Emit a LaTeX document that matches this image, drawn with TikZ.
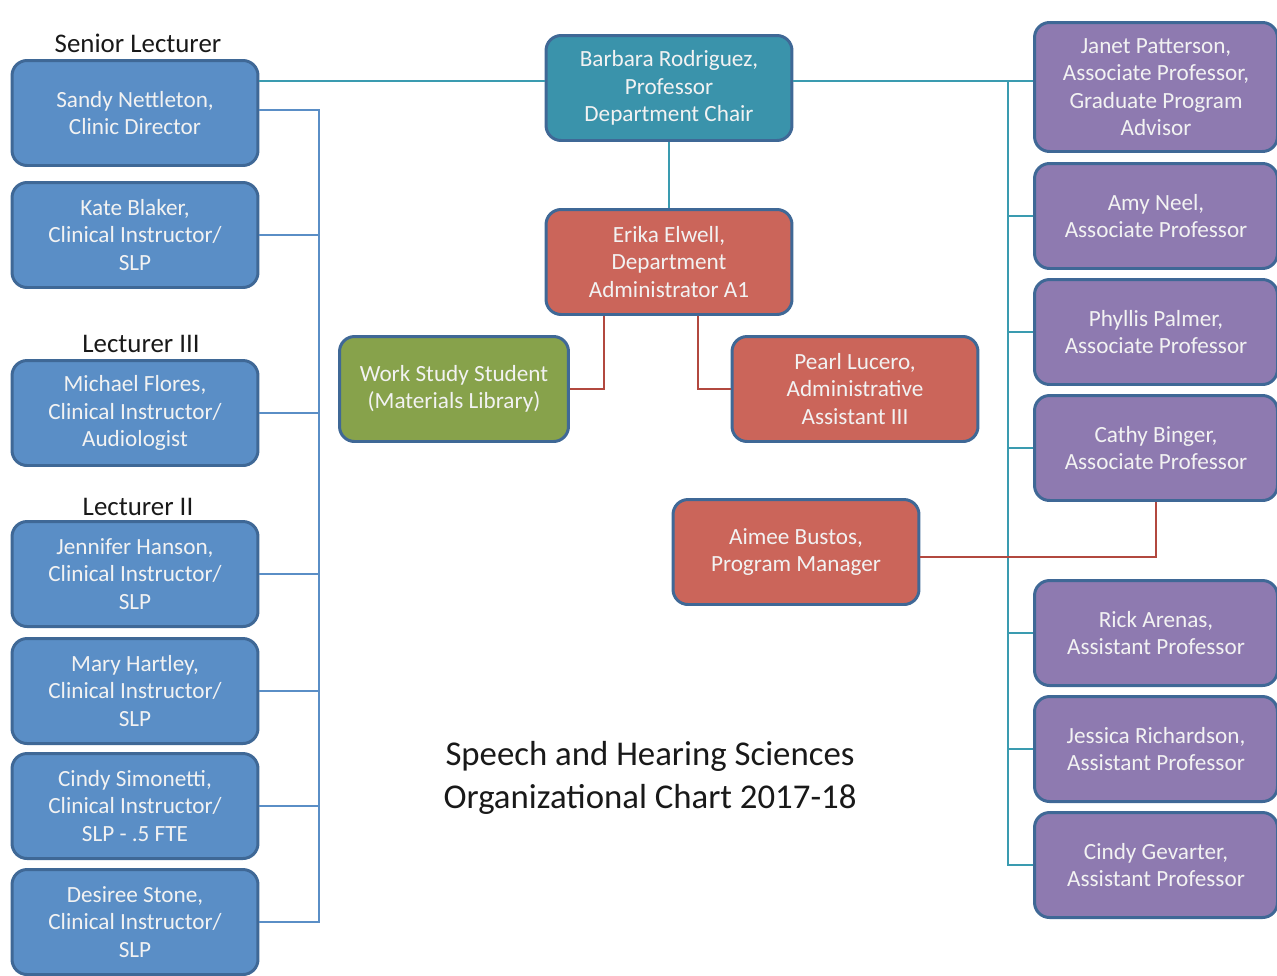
\documentclass[tikz,border=0pt]{standalone}
\usepackage{fontspec}
\setmainfont{Carlito}
\usetikzlibrary{positioning}

\definecolor{lecblue}{HTML}{5A8EC6}
\definecolor{chairteal}{HTML}{3A93AB}
\definecolor{adminred}{HTML}{CB655A}
\definecolor{workgreen}{HTML}{87A24B}
\definecolor{facpurple}{HTML}{8E7AB0}
\definecolor{boxrim}{HTML}{3F6896}
\definecolor{busblue}{HTML}{5A8EC6}
\definecolor{busteal}{HTML}{3A9BB0}
\definecolor{busred}{HTML}{B2483F}

\tikzset{
  person/.style={draw=boxrim, line width=1.7pt, rounded corners=0.3cm,
    text=white!95!black, align=center, minimum height=2.1cm,
    font=\fontsize{13.2}{15.6}\selectfont},
  lecturer/.style={person, fill=lecblue, minimum width=4.92cm},
  chair/.style={person, fill=chairteal, minimum width=4.92cm},
  admin/.style={person, fill=adminred, minimum width=4.92cm},
  student/.style={person, fill=workgreen, minimum width=4.58cm},
  faculty/.style={person, fill=facpurple, minimum width=4.86cm},
  rank/.style={font=\fontsize{15.3}{18}\selectfont, text=black!90},
  blueline/.style={draw=busblue, line width=1.5pt},
  tealline/.style={draw=busteal, line width=1.5pt},
  redline/.style={draw=busred, line width=1.5pt}
}

\begin{document}
\begin{tikzpicture}[x=0.02cm, y=-0.02cm]
	\useasboundingbox (0,0) rectangle (1277,975);
	% left column
	\node[rank] (srlabel) at (138,43) {Senior Lecturer};
	\node[lecturer] (sandy) at (135,113) {Sandy Nettleton,\\Clinic Director};
	\node[lecturer] (kate) at (135,235) {Kate Blaker,\\Clinical Instructor/\\SLP};
	\node[rank] (l3label) at (141,344) {Lecturer III};
	\node[lecturer] (michael) at (135,413) {Michael Flores,\\Clinical Instructor/\\Audiologist};
	\node[rank] (l2label) at (138,507) {Lecturer II};
	\node[lecturer] (jennifer) at (135,574) {Jennifer Hanson,\\Clinical Instructor/\\SLP};
	\node[lecturer] (mary) at (135,691) {Mary Hartley,\\Clinical Instructor/\\SLP};
	\node[lecturer] (cindys) at (135,806) {Cindy Simonetti,\\Clinical Instructor/\\SLP - .5 FTE};
	\node[lecturer] (desiree) at (135,922) {Desiree Stone,\\Clinical Instructor/\\SLP};
	% middle
	\node[chair] (barbara) at (669,88) {Barbara Rodriguez,\\Professor\\Department Chair};
	\node[admin] (erika) at (669,262) {Erika Elwell,\\Department\\Administrator A1};
	\node[student] (work) at (454,389) {Work Study Student\\(Materials Library)};
	\node[admin] (pearl) at (855,389) {Pearl Lucero,\\Administrative\\Assistant III};
	\node[admin] (aimee) at (796,552) {Aimee Bustos,\\Program Manager};
	\node[align=center, font=\fontsize{19.8}{24.4}\selectfont, text=black!90] (title) at (650,778)
		{Speech and Hearing Sciences\\Organizational Chart 2017-18};
	% right column
	\node[faculty, minimum height=2.58cm] (janet) at (1156,87) {Janet Patterson,\\Associate Professor,\\Graduate Program\\Advisor};
	\node[faculty] (amy) at (1156,216) {Amy Neel,\\Associate Professor};
	\node[faculty] (phyllis) at (1156,332) {Phyllis Palmer,\\Associate Professor};
	\node[faculty] (cathy) at (1156,448) {Cathy Binger,\\Associate Professor};
	\node[faculty] (rick) at (1156,633) {Rick Arenas,\\Assistant Professor};
	\node[faculty] (jessica) at (1156,749) {Jessica Richardson,\\Assistant Professor};
	\node[faculty] (cindyg) at (1156,865) {Cindy Gevarter,\\Assistant Professor};

	\coordinate (topline) at (0,81);
	\coordinate (lbus) at (319,110);
	\coordinate (rbus) at (1008,81);
	\coordinate (mgrline) at (0,557);

	% lecturers bus
	\draw[blueline] (sandy.east |- lbus) -- (lbus) -- (lbus |- desiree.east) -- (desiree.east);
	\foreach \n in {kate,michael,jennifer,mary,cindys}
		\draw[blueline] (\n.east) -- (\n.east -| lbus);
	% chair
	\draw[tealline] (sandy.east |- topline) -- (barbara.west |- topline);
	\draw[tealline] (barbara.east |- topline) -- (janet.west |- topline);
	\draw[tealline] (rbus) -- (rbus |- cindyg.west) -- (cindyg.west);
	\foreach \n in {amy,phyllis,cathy,rick,jessica}
		\draw[tealline] (\n.west -| rbus) -- (\n.west);
	\draw[tealline] (barbara.south) -- (erika.north);
	% staff
	\draw[redline] (erika.south -| 604,0) |- (work.east);
	\draw[redline] (erika.south -| 698,0) |- (pearl.west);
	\draw[redline] (aimee.east |- mgrline) -| (cathy.south);
\end{tikzpicture}
\end{document}
